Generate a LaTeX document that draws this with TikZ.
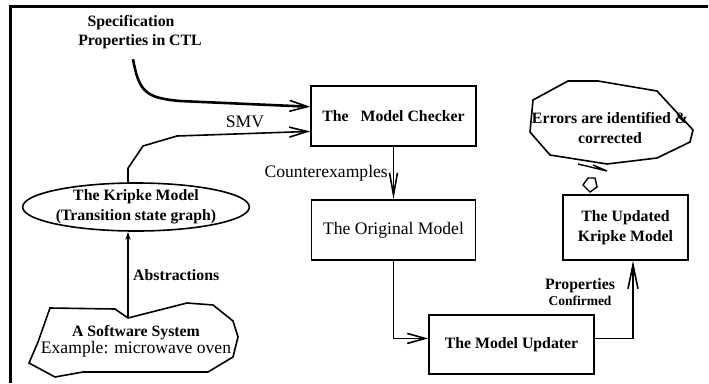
\documentclass[tikz,border=0pt]{standalone}
\usepackage{fontspec}
\setmainfont{Liberation Serif}
\usetikzlibrary{shapes,arrows.meta,positioning,calc}

\begin{document}
\begin{tikzpicture}[x=1pt, y=-1pt,
    box/.style={rectangle, draw=black, line width=1.6pt, align=center, inner sep=0pt},
    boldtext/.style={font=\fontsize{15.8}{19.5}\selectfont\bfseries, align=center, inner sep=0pt},
    plaintext/.style={font=\fontsize{17.6}{21}\selectfont, align=center, inner sep=0pt},
    link/.style={line width=1.6pt, -{Straight Barb[length=18pt, width=10pt, line width=1.6pt]}}
]
\useasboundingbox (0,0) rectangle (709,383);

% Frame
\draw[line width=3pt] (708,6) -- (10,6) -- (10,383);

% Boxes
\node[box, boldtext, draw, line width=1.6pt, minimum width=165pt, minimum height=60pt] (checker) at (393.5,116) {The\ \ \ Model Checker};
\node[box, plaintext, draw, line width=1.4pt, minimum width=164pt, minimum height=60pt] (original) at (393.5,230) {The Original Model};
\node[box, boldtext, draw, line width=1.6pt, minimum width=165pt, minimum height=59pt] (updater) at (511.5,344.5) {The Model Updater};
\node[box, boldtext, draw, line width=1.6pt, minimum width=125pt, minimum height=65pt] (updated) at (625.5,227.5) {The Updated\\Kripke Model};

% Kripke model
\node[ellipse, draw, line width=1.6pt, minimum width=199pt, minimum height=48pt, inner sep=0pt, boldtext] (kripke) at (136,207) {The Kripke Model\\(Transition state graph)};

% Software system outline
\draw[line width=1.6pt] (50,308) -- (115,309) -- (128,318) -- (187,303) -- (213,305) -- (233,321)
    -- (238,337) -- (233,357) -- (208,372) -- (83,372) -- (55,377) -- (29,363) -- (38,342) -- cycle;
\node[align=center, inner sep=0pt] (software) at (136,341)
    {{\fontsize{15.8}{19.5}\selectfont\bfseries A Software System}\\{\fontsize{17.6}{21}\selectfont Example: microwave oven}};
\coordinate (swtop) at (128,318);

% Errors bubble
\draw[line width=1.6pt] (568,81) -- (598,81) -- (657,91) -- (693,130) -- (690,142) -- (657,158)
    -- (607,164) -- (550,155) -- (530,132) -- (533,100) -- cycle;
\draw[line width=1.4pt] (578,164) -- (607,171) -- (593,165);
\draw[line width=1.4pt] (583,185) -- (588,178) -- (595,178) -- (597,187) -- (590,192) -- cycle;
\node[boldtext] (errors) at (610,128) {Errors are identified \&\\corrected};

% Specification
\node[boldtext] (spec) at (140,32) {Specification\hspace*{18pt}\\Properties in CTL};

% Connectors
\coordinate (specin) at ($(checker.south west)!0.65!(checker.north west)$);
\coordinate (smvin) at ($(checker.south west)!0.25!(checker.north west)$);
\draw[line width=2.6pt, -{Straight Barb[length=18pt, width=11pt, line width=1.6pt]}]
    ($(spec.south)+(-7,10)$) .. controls (139,92) and (146,98) .. (180,101) -- (specin);
\draw[link] (kripke.north -| swtop) -- ++(0,-14) -- (143,146) -- (177,136) -- (smvin);
\node[plaintext] (smv) at (245,122) {SMV};

\draw[line width=2pt, -{Stealth[length=8pt, width=5pt]}] (swtop) -- (swtop |- kripke.south);
\node[boldtext, anchor=west] (abstr) at (133,275) {Abstractions};

\draw[link, -{Straight Barb[length=22pt, width=8pt, line width=1.6pt]}] (checker.south) -- (original.north);
\node[plaintext, anchor=east] (counter) at (388,173) {Counterexamples};

\coordinate (upin) at ($(updater.south west)!0.6!(updater.north west)$);
\coordinate (upout) at ($(updater.south east)!0.6!(updater.north east)$);
\draw[link] (original.south) |- (upin);
\draw[link, -{Straight Barb[length=24pt, width=10pt, line width=1.6pt]}] (upout) -| ($(updated.south)+(7.5,0)$);
\node[boldtext] (props) at (580,292) {Properties\\[-4pt]{\fontsize{13.5}{15}\selectfont Confirmed}};

\end{tikzpicture}
\end{document}
